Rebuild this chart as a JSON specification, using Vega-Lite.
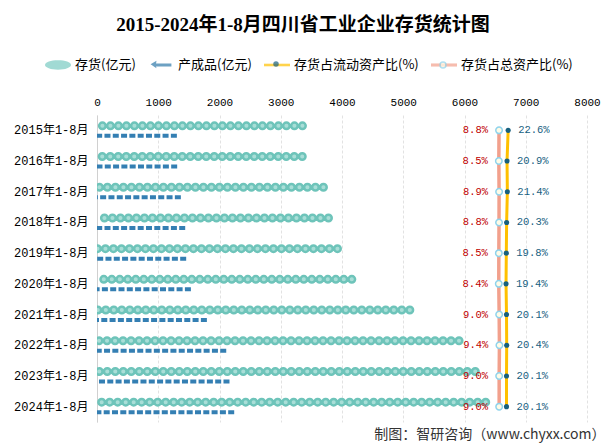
{
  "$schema": "https://vega.github.io/schema/vega-lite/v6.json",
  "width": 490,
  "height": 307,
  "autosize": {"type": "none"},
  "padding": {"left": 97, "top": 115, "right": 20, "bottom": 26},
  "background": "white",
  "title": {
    "text": "2015-2024年1-8月四川省工业企业存货统计图",
    "font": "Liberation Serif, Noto Sans CJK SC",
    "fontSize": 19,
    "fontWeight": "bold",
    "color": "#000000",
    "anchor": "middle",
    "frame": "group",
    "dx": -39,
    "offset": 17
  },
  "data": {
    "values": [
      {"year": "2015年1-8月", "inv": 3428, "fin": 1304, "liu": 0.226, "zong": 0.088},
      {"year": "2016年1-8月", "inv": 3425, "fin": 1309, "liu": 0.209, "zong": 0.085},
      {"year": "2017年1-8月", "inv": 3771, "fin": 1369, "liu": 0.214, "zong": 0.089},
      {"year": "2018年1-8月", "inv": 3853, "fin": 1440, "liu": 0.203, "zong": 0.088},
      {"year": "2019年1-8月", "inv": 4000, "fin": 1456, "liu": 0.198, "zong": 0.085},
      {"year": "2020年1-8月", "inv": 4234, "fin": 1533, "liu": 0.194, "zong": 0.084},
      {"year": "2021年1-8月", "inv": 5181, "fin": 1794, "liu": 0.201, "zong": 0.090},
      {"year": "2022年1-8月", "inv": 5985, "fin": 2110, "liu": 0.204, "zong": 0.094},
      {"year": "2023年1-8月", "inv": 6250, "fin": 2163, "liu": 0.201, "zong": 0.090},
      {"year": "2024年1-8月", "inv": 6420, "fin": 2240, "liu": 0.201, "zong": 0.090}
    ]
  },
  "encoding": {
    "y": {
      "field": "year",
      "type": "nominal",
      "sort": null,
      "scale": {"type": "band", "paddingInner": 0, "paddingOuter": 0},
      "axis": {
        "title": null,
        "ticks": false,
        "grid": false,
        "labelFont": "Liberation Mono, Noto Sans CJK SC",
        "labelFontSize": 12,
        "labelColor": "#000000",
        "labelPadding": 9,
        "domainColor": "#d0d0d0"
      }
    }
  },
  "layer": [
    {
      "layer": [
        {
          "mark": {"type": "rule", "clip": true, "color": "#6ec4ba", "strokeWidth": 9, "strokeCap": "round", "strokeDash": [0.1, 7.9], "strokeDashOffset": 3.5, "yOffset": -4.5},
          "encoding": {
            "x": {
              "field": "inv",
              "type": "quantitative",
              "scale": {"domain": [0, 8000], "nice": false, "zero": true},
              "axis": {
                "orient": "top",
                "title": null,
                "values": [0, 1000, 2000, 3000, 4000, 5000, 6000, 7000, 8000],
                "format": "d",
                "ticks": false,
                "domain": false,
                "labelFont": "Liberation Mono",
                "labelFontSize": 11,
                "labelColor": "#000000",
                "labelPadding": 8,
                "labelFlush": false,
                "grid": true,
                "gridColor": "#e2e2e2",
                "gridDash": [3, 2]
              }
            },
            "x2": {"datum": 0}
          }
        },
        {
          "mark": {"type": "rule", "clip": true, "color": "#a9ded7", "strokeWidth": 4, "strokeCap": "round", "strokeDash": [0.1, 7.9], "strokeDashOffset": 3.5, "yOffset": -4.5},
          "encoding": {
            "x": {"field": "inv", "type": "quantitative"},
            "x2": {"datum": 0}
          }
        },
        {
          "mark": {"type": "rule", "color": "#347fb3", "strokeWidth": 4, "strokeDash": [6, 2.3], "yOffset": 5.5},
          "encoding": {
            "x": {"field": "fin", "type": "quantitative"},
            "x2": {"datum": 0}
          }
        }
      ]
    },
    {
      "layer": [
        {
          "mark": {"type": "line", "color": "#f2a08c", "strokeWidth": 3.5},
          "encoding": {
            "x": {"field": "zong", "type": "quantitative", "scale": {"domain": [-6.0, 1.42], "nice": false, "zero": false},
              "axis": {"orient": "bottom", "labels": false, "ticks": false, "domain": false, "grid": false,
                "title": "制图：智研咨询（www.chyxx.com）", "titleFont": "Noto Sans CJK SC", "titleFontSize": 14,
                "titleFontWeight": "normal", "titleColor": "#333333", "titleAlign": "right", "titleAnchor": "end",
                "titleX": 508, "titleY": 12, "titleBaseline": "middle", "titleAngle": 0}},
            "order": {"field": "year", "type": "ordinal"}
          }
        },
        {
          "mark": {"type": "point", "shape": "circle", "filled": true, "fill": "#fffbe6", "stroke": "#8fd3ec", "strokeWidth": 1.5, "size": 42, "opacity": 1},
          "encoding": {
            "x": {"field": "zong", "type": "quantitative"}
          }
        },
        {
          "mark": {"type": "line", "color": "#ffc000", "strokeWidth": 3},
          "encoding": {
            "x": {"field": "liu", "type": "quantitative"},
            "order": {"field": "year", "type": "ordinal"}
          }
        },
        {
          "mark": {"type": "point", "shape": "circle", "filled": true, "color": "#17607f", "size": 26, "opacity": 1},
          "encoding": {
            "x": {"field": "liu", "type": "quantitative"}
          }
        },
        {
          "mark": {"type": "text", "align": "right", "baseline": "middle", "dx": -11, "color": "#c00000", "font": "Liberation Mono", "fontSize": 10.5},
          "encoding": {
            "x": {"field": "zong", "type": "quantitative"},
            "text": {"field": "zong", "type": "quantitative", "format": ".1%"}
          }
        },
        {
          "mark": {"type": "text", "align": "left", "baseline": "middle", "dx": 10, "color": "#17607f", "font": "Liberation Mono", "fontSize": 10.5},
          "encoding": {
            "x": {"field": "liu", "type": "quantitative"},
            "text": {"field": "liu", "type": "quantitative", "format": ".1%"}
          }
        },
        {
          "data": {"values": [
            {"s": "存货(亿元)", "year": "2015年1-8月"},
            {"s": "产成品(亿元)", "year": "2015年1-8月"},
            {"s": "存货占流动资产比(%)", "year": "2015年1-8月"},
            {"s": "存货占总资产比(%)", "year": "2015年1-8月"}
          ]},
          "mark": {"type": "point", "filled": true, "size": 0},
          "encoding": {
            "color": {
              "field": "s", "type": "nominal", "sort": null,
              "scale": {"domain": ["存货(亿元)", "产成品(亿元)", "存货占流动资产比(%)", "存货占总资产比(%)"], "range": ["#79cbc2", "#2f79aa", "#ffc000", "#f2a08c"]},
              "legend": {"title": null, "orient": "none", "legendX": -52, "legendY": -63, "direction": "horizontal", "columns": 4,
                "symbolSize": 676, "symbolStrokeWidth": 0, "labelFont": "Noto Sans CJK SC", "labelFontSize": 13, "labelColor": "#000000",
                "labelOffset": 4, "columnPadding": 12, "zindex": 0}
            },
            "shape": {
              "field": "s", "type": "nominal", "sort": null,
              "scale": {"domain": ["存货(亿元)", "产成品(亿元)", "存货占流动资产比(%)", "存货占总资产比(%)"],
                "range": [
                  "M-1,0A1,0.36,0,1,1,1,0A1,0.36,0,1,1,-1,0Z",
                  "M-0.8,-0.05L-0.35,-0.32L-0.38,-0.12L0.8,-0.12L0.8,0.12L-0.38,0.12L-0.35,0.25Z",
                  "M-1,-0.1H1V0.1H-1Z",
                  "M-1,-0.12H1V0.12H-1Z"
                ]},
              "legend": {"title": null, "orient": "none", "legendX": -52, "legendY": -63, "direction": "horizontal", "columns": 4,
                "symbolSize": 676, "symbolStrokeWidth": 0, "labelFont": "Noto Sans CJK SC", "labelFontSize": 13, "labelColor": "#000000",
                "labelOffset": 4, "columnPadding": 12, "zindex": 0}
            }
          }
        },
        {
          "data": {"values": [{"u": "流动点", "year": "2015年1-8月"}]},
          "mark": {"type": "point", "filled": true, "size": 0, "shape": "circle"},
          "encoding": {
            "fill": {
              "field": "u", "type": "nominal",
              "scale": {"domain": ["流动点"], "range": ["#17607f"]},
              "legend": {"title": null, "orient": "none", "legendX": 176, "legendY": -54, "symbolSize": 30, "symbolType": "circle",
                "symbolStrokeWidth": 0, "labelExpr": "''", "labelFontSize": 6, "labelOffset": 0, "zindex": 1}
            }
          }
        },
        {
          "data": {"values": [{"v": "总点", "year": "2015年1-8月"}]},
          "mark": {"type": "point", "filled": true, "size": 0, "shape": "circle", "fill": "#fffbe6", "strokeWidth": 1.5},
          "encoding": {
            "stroke": {
              "field": "v", "type": "nominal",
              "scale": {"domain": ["总点"], "range": ["#8fd3ec"]},
              "legend": {"title": null, "orient": "none", "legendX": 342, "legendY": -54, "symbolSize": 36, "symbolType": "circle",
                "symbolStrokeWidth": 1.5, "symbolFillColor": "#fffbe6", "labelExpr": "''", "labelFontSize": 6, "labelOffset": 0, "zindex": 1}
            }
          }
        }
      ]
    }
  ],
  "resolve": {"scale": {"x": "independent"}},
  "config": {"view": {"stroke": null}}
}
